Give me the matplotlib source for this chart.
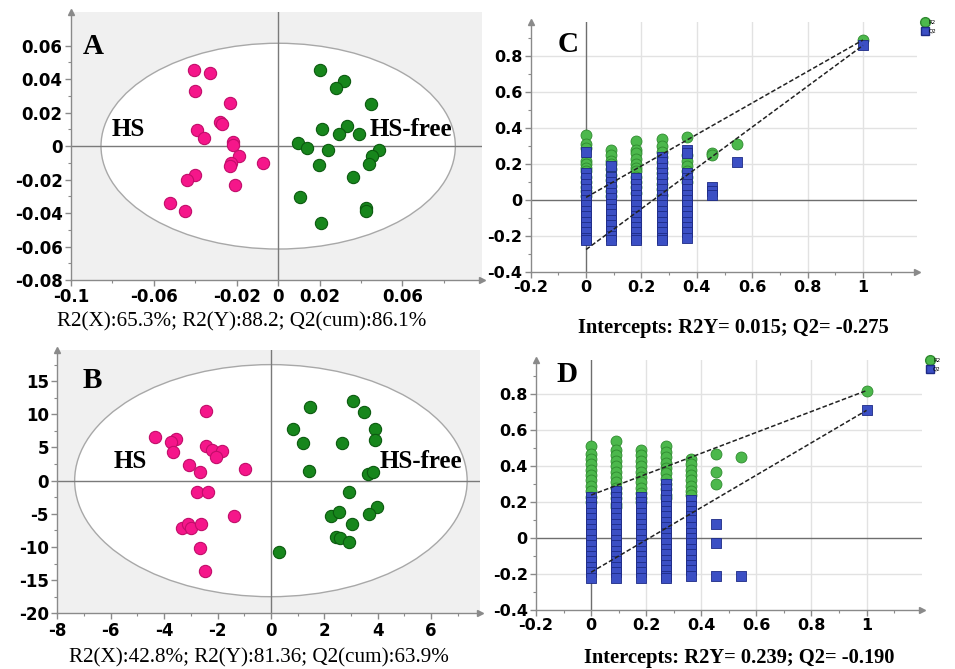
import matplotlib
matplotlib.use("Agg")
import matplotlib.pyplot as plt
from matplotlib.patches import Ellipse
from matplotlib.lines import Line2D

# ---------------- data ----------------
# Panel A (OPLS-DA scores)
a_hs_x = [-0.0406, -0.0327, -0.040, -0.0234, -0.0279, -0.027, -0.039, -0.036, -0.0218, -0.022,
          -0.019, -0.023, -0.0234, -0.0073, -0.0206, -0.040, -0.044, -0.052, -0.045]
a_hs_y = [0.0458, 0.044, 0.0328, 0.026, 0.0144, 0.013, 0.0094, 0.0048, 0.0024, 0.0004,
          -0.006, -0.010, -0.012, -0.0102, -0.023, -0.0172, -0.020, -0.034, -0.039]
a_free_x = [0.020, 0.0316, 0.028, 0.0447, 0.021, 0.0334, 0.0295, 0.039, 0.0094, 0.014,
            0.0242, 0.0487, 0.0455, 0.044, 0.0197, 0.0363, 0.0105, 0.0423, 0.0423, 0.0206]
a_free_y = [0.0454, 0.039, 0.035, 0.025, 0.0104, 0.0118, 0.007, 0.007, 0.0018, -0.0012,
            -0.0026, -0.0026, -0.0056, -0.0106, -0.011, -0.0182, -0.0306, -0.0372, -0.039, -0.046]

# Panel B (OPLS-DA scores)
b_hs_x = [-2.44, -4.34, -3.56, -3.75, -3.66, -2.44, -2.19, -1.85, -2.06, -3.06, -2.65,
          -0.975, -2.75, -2.35, -1.4, -3.34, -3.09, -3.0, -2.63, -2.65, -2.48]
b_hs_y = [10.55, 6.63, 6.28, 5.78, 4.27, 5.23, 4.62, 4.47, 3.62, 2.36, 1.26,
          1.76, -1.76, -1.76, -5.28, -7.09, -6.53, -7.19, -6.53, -10.2, -13.7]
b_free_x = [3.06, 3.5, 1.46, 0.81, 3.9, 3.88, 1.19, 2.66, 1.44, 3.65, 3.81,
            2.94, 3.96, 3.69, 2.24, 2.55, 3.02, 2.43, 2.59, 2.91, 0.29]
b_free_y = [12.06, 10.4, 11.06, 7.79, 7.74, 6.13, 5.63, 5.63, 1.51, 1.0, 1.26,
            -1.76, -3.92, -5.03, -5.28, -4.77, -6.53, -8.54, -8.69, -9.2, -10.7]

# Permutation tests: correlation x positions
perm_x = [0.0, 0.091, 0.182, 0.273, 0.364, 0.455, 0.545, 1.0]

# Panel C permutation values
c_r2 = [
    [0.36, 0.31, 0.29, 0.22, 0.20, 0.18, 0.16, 0.13, 0.10, 0.07, 0.05, 0.02],
    [0.28, 0.25, 0.22, 0.20, 0.17, 0.14, 0.11, 0.08, 0.05, 0.02],
    [0.33, 0.28, 0.26, 0.23, 0.20, 0.18, 0.16, 0.13, 0.10, 0.07, 0.04],
    [0.34, 0.30, 0.27, 0.24, 0.21, 0.18, 0.15, 0.12, 0.09, 0.06, 0.03],
    [0.35, 0.25, 0.22, 0.19, 0.16, 0.13, 0.10],
    [0.26, 0.25],
    [0.31],
    [0.89],
]
c_q2 = [
    [0.27, 0.15, 0.12, 0.09, 0.06, 0.03, 0.00, -0.03, -0.06, -0.09, -0.12, -0.15, -0.18, -0.21, -0.22],
    [0.19, 0.13, 0.10, 0.07, 0.04, 0.01, -0.02, -0.05, -0.08, -0.11, -0.14, -0.17, -0.20, -0.22],
    [0.12, 0.09, 0.06, 0.03, 0.00, -0.03, -0.06, -0.09, -0.12, -0.15, -0.18, -0.21, -0.22],
    [0.24, 0.21, 0.18, 0.15, 0.12, 0.09, 0.06, 0.03, 0.00, -0.03, -0.06, -0.09, -0.12, -0.15, -0.18, -0.21, -0.22],
    [0.28, 0.26, 0.15, 0.12, 0.09, 0.06, 0.03, 0.00, -0.03, -0.06, -0.09, -0.12, -0.15, -0.18, -0.21],
    [0.07, 0.05, 0.03],
    [0.21],
    [0.86],
]
c_intercepts = [0.015, -0.275]

# Panel D permutation values
d_r2 = [
    [0.51, 0.47, 0.44, 0.41, 0.38, 0.35, 0.32, 0.29, 0.26, 0.23, 0.20],
    [0.54, 0.49, 0.46, 0.43, 0.40, 0.37, 0.34, 0.31, 0.28, 0.25, 0.22, 0.19, 0.17],
    [0.49, 0.46, 0.43, 0.40, 0.37, 0.34, 0.31, 0.28, 0.25, 0.22, 0.20],
    [0.51, 0.48, 0.45, 0.42, 0.39, 0.36, 0.33, 0.30, 0.27, 0.24, 0.22],
    [0.44, 0.41, 0.38, 0.35, 0.32, 0.29, 0.26, 0.24],
    [0.47, 0.37, 0.30],
    [0.45],
    [0.82],
]
d_q2 = [
    [0.23, 0.20, 0.17, 0.14, 0.11, 0.08, 0.05, 0.02, -0.01, -0.04, -0.07, -0.10, -0.13, -0.16, -0.19, -0.22],
    [0.26, 0.23, 0.20, 0.17, 0.14, 0.11, 0.08, 0.05, 0.02, -0.01, -0.04, -0.07, -0.10, -0.13, -0.16, -0.19, -0.22],
    [0.23, 0.20, 0.17, 0.14, 0.11, 0.08, 0.05, 0.02, -0.01, -0.04, -0.07, -0.10, -0.13, -0.16, -0.19, -0.22],
    [0.30, 0.27, 0.24, 0.21, 0.18, 0.15, 0.12, 0.09, 0.06, 0.03, 0.00, -0.03, -0.06, -0.09, -0.12, -0.15, -0.18, -0.21, -0.22],
    [0.21, 0.18, 0.15, 0.12, 0.10, 0.06, 0.03, 0.00, -0.03, -0.06, -0.09, -0.12, -0.15, -0.18, -0.21],
    [0.08, -0.03, -0.21],
    [-0.21],
    [0.71],
]
d_intercepts = [0.239, -0.190]

a_xticks = [-0.1, -0.06, -0.02, 0, 0.02, 0.06]
a_xticklabels = ["-0.1", "-0.06", "-0.02", "0", "0.02", "0.06"]
a_yticks = [0.06, 0.04, 0.02, 0, -0.02, -0.04, -0.06, -0.08]
a_yticklabels = ["0.06", "0.04", "0.02", "0", "-0.02", "-0.04", "-0.06", "-0.08"]
b_xticks = [-8, -6, -4, -2, 0, 2, 4, 6]
b_yticks = [15, 10, 5, 0, -5, -10, -15, -20]
p_xticks = [-0.2, 0, 0.2, 0.4, 0.6, 0.8, 1]
p_xticklabels = ["-0.2", "0", "0.2", "0.4", "0.6", "0.8", "1"]
p_yticks = [0.8, 0.6, 0.4, 0.2, 0, -0.2, -0.4]
p_yticklabels = ["0.8", "0.6", "0.4", "0.2", "0", "-0.2", "-0.4"]

captions = ["R2(X):65.3%; R2(Y):88.2; Q2(cum):86.1%",
            "Intercepts: R2Y= 0.015; Q2= -0.275",
            "R2(X):42.8%; R2(Y):81.36; Q2(cum):63.9%",
            "Intercepts: R2Y= 0.239; Q2= -0.190"]

# ---------------- style ----------------
W, H = 955, 669
fig = plt.figure(figsize=(W / 100, H / 100), dpi=100)
SERIF = ["Liberation Serif", "DejaVu Serif"]
PINK, PINK_E = "#f5168a", "#c20d6a"
DGREEN, DGREEN_E = "#17861c", "#0b5a0f"
LGREEN, LGREEN_E = "#4cb84c", "#2f8a2f"
BLUE, BLUE_E = "#3b4fc4", "#1d2a85"
AXC = "#8a8a8a"


def ftext(px, py, s, **kw):
    fig.text(px / W, 1 - py / H, s, ha="center", va="center", **kw)


def style_axes(ax, labelsize=12):
    for side in ("top", "right"):
        ax.spines[side].set_visible(False)
    for side in ("left", "bottom"):
        ax.spines[side].set_color(AXC)
        ax.spines[side].set_linewidth(1.0)
    ax.tick_params(which="major", length=4, color=AXC, width=1, pad=2,
                   labelsize=labelsize)
    ax.tick_params(which="minor", length=2, color=AXC, width=0.8)
    for lab in ax.get_xticklabels() + ax.get_yticklabels():
        lab.set_fontweight("bold")
    ax.plot([0], [1], marker="^", ms=5, color=AXC, transform=ax.transAxes, clip_on=False)
    ax.plot([1], [0], marker=">", ms=5, color=AXC, transform=ax.transAxes, clip_on=False)


def score_panel(rect, xs1, ys1, xs2, ys2, xlim, ylim, ell, xt, xtl, yt, ytl):
    ax = fig.add_axes(rect)
    ax.set_facecolor("#f0f0f0")
    ax.set_xlim(*xlim)
    ax.set_ylim(*ylim)
    ax.add_patch(Ellipse((0, 0), 2 * ell[0], 2 * ell[1], facecolor="white",
                         edgecolor="#a8a8a8", lw=1.0, zorder=1))
    ax.axhline(0, color="#7a7a7a", lw=1.0, zorder=2)
    ax.axvline(0, color="#7a7a7a", lw=1.0, zorder=2)
    ax.scatter(xs1, ys1, s=78, c=PINK, edgecolors=PINK_E, linewidths=0.8, zorder=3)
    ax.scatter(xs2, ys2, s=78, c=DGREEN, edgecolors=DGREEN_E, linewidths=0.8, zorder=3)
    ax.set_xticks(xt)
    ax.set_xticklabels(xtl)
    ax.set_yticks(yt)
    ax.set_yticklabels(ytl)
    style_axes(ax)
    return ax


def perm_panel(rect, r2, q2, icpt, xlim, ylim):
    ax = fig.add_axes(rect)
    ax.set_xlim(*xlim)
    ax.set_ylim(*ylim)
    for gx in [0.2, 0.4, 0.6, 0.8, 1.0]:
        ax.axvline(gx, color="#e2e2e2", lw=1.0, zorder=0)
    for gy in [0.8, 0.6, 0.4, 0.2, -0.2]:
        ax.axhline(gy, color="#e2e2e2", lw=1.0, zorder=0)
    ax.axhline(0, color="#6e6e6e", lw=1.0, zorder=1)
    ax.axvline(0, color="#6e6e6e", lw=1.0, zorder=1)
    for x, vals in zip(perm_x, r2):
        ax.scatter([x] * len(vals), vals, s=62, marker="o", c=LGREEN,
                   edgecolors=LGREEN_E, linewidths=0.6, zorder=2)
    for x, vals in zip(perm_x, q2):
        ax.scatter([x] * len(vals), vals, s=48, marker="s", c=BLUE,
                   edgecolors=BLUE_E, linewidths=0.6, zorder=3)
    ax.plot([perm_x[0], perm_x[-1]], [icpt[0], r2[-1][0]], ls=(0, (3, 1.5)),
            color="#222222", lw=1.1, zorder=4)
    ax.plot([perm_x[0], perm_x[-1]], [icpt[1], q2[-1][0]], ls=(0, (3, 1.5)),
            color="#222222", lw=1.1, zorder=4)
    ax.set_xticks(p_xticks)
    ax.set_xticklabels(p_xticklabels)
    ax.set_yticks(p_yticks)
    ax.set_yticklabels(p_yticklabels)
    style_axes(ax, labelsize=11.5)
    handles = [Line2D([], [], ls="none", marker="o", ms=7, color=LGREEN, mec=LGREEN_E, label="R2"),
               Line2D([], [], ls="none", marker="s", ms=6, color=BLUE, mec=BLUE_E, label="Q2")]
    ax.legend(handles=handles, loc="upper left", bbox_to_anchor=(1.005, 1.02), frameon=False,
              fontsize=4, handletextpad=0.1, labelspacing=0.6, borderaxespad=0.2, handlelength=1.0)
    return ax


# Panel A
axA = score_panel([0.0743, 0.5815, 0.4307, 0.4006], a_hs_x, a_hs_y, a_free_x, a_free_y,
                  (-0.1, 0.0985), (-0.08, 0.0802), (0.0855, 0.0615),
                  a_xticks, a_xticklabels, a_yticks, a_yticklabels)
axA.set_yticks([0.05, 0.03, 0.01, -0.01, -0.03, -0.05, -0.07], minor=True)
axA.set_xticks([-0.08, -0.04, 0.04, 0.08], minor=True)

# Panel B
axB = score_panel([0.060, 0.0833, 0.4426, 0.3935], b_hs_x, b_hs_y, b_free_x, b_free_y,
                  (-8, 7.83), (-20, 19.7), (7.35, 17.5),
                  b_xticks, [str(v) for v in b_xticks], b_yticks, [str(v) for v in b_yticks])
axB.set_yticks([17.5, 12.5, 7.5, 2.5, -2.5, -7.5, -12.5, -17.5], minor=True)
axB.set_xticks([-7, -5, -3, -1, 1, 3, 5, 7], minor=True)

# Panel C
axC = perm_panel([0.5557, 0.5934, 0.4045, 0.3737], c_r2, c_q2, c_intercepts,
                 (-0.2, 1.195), (-0.4, 0.99))
axC.set_yticks([0.9, 0.7, 0.5, 0.3, 0.1, -0.1, -0.3], minor=True)
axC.set_xticks([-0.1, 0.1, 0.3, 0.5, 0.7, 0.9, 1.1], minor=True)

# Panel D
axD = perm_panel([0.5613, 0.0882, 0.4038, 0.3737], d_r2, d_q2, d_intercepts,
                 (-0.2, 1.2), (-0.4, 0.99))
axD.set_yticks([0.9, 0.7, 0.5, 0.3, 0.1, -0.1, -0.3], minor=True)
axD.set_xticks([-0.1, 0.1, 0.3, 0.5, 0.7, 0.9, 1.1], minor=True)

# Panel letters and group labels
for px, py, s in [(93, 47, "A"), (568, 45, "C"), (92, 380, "B"), (567, 375, "D")]:
    ftext(px, py, s, family=SERIF, fontsize=21, fontweight="bold")
for px, py, s in [(128, 130, "HS"), (411, 130, "HS-free"), (130, 462, "HS"), (421, 462, "HS-free")]:
    ftext(px, py, s, family=SERIF, fontsize=18, fontweight="bold")

# Captions
ftext(242, 322, captions[0], family=SERIF, fontsize=15.2)
ftext(733, 328, captions[1], family=SERIF, fontsize=14.8, fontweight="bold")
ftext(259, 658, captions[2], family=SERIF, fontsize=15.2)
ftext(739, 658, captions[3], family=SERIF, fontsize=14.8, fontweight="bold")

fig.savefig("out.png", dpi=100)
